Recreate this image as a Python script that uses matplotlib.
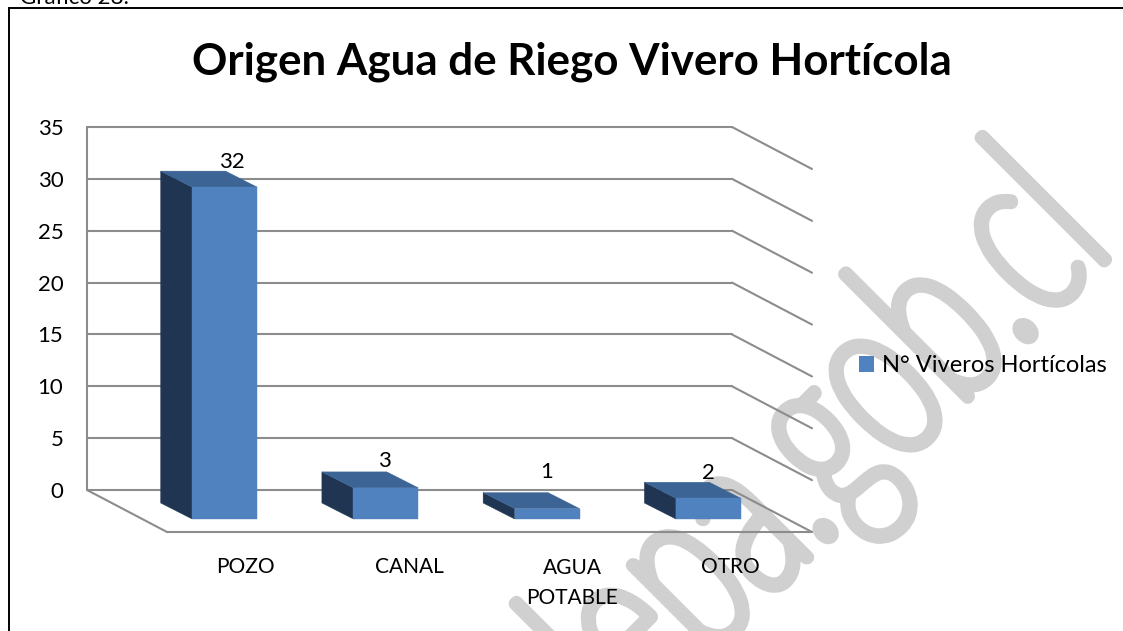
import matplotlib
matplotlib.use("Agg")
import matplotlib.pyplot as plt
import matplotlib.patheffects as pe
from matplotlib.patches import Polygon, Rectangle
from matplotlib.transforms import Affine2D, IdentityTransform

categories = ["POZO", "CANAL", "AGUA\nPOTABLE", "OTRO"]
values = [32, 3, 1, 2]
y_ticks = [0, 5, 10, 15, 20, 25, 30, 35]
series_name = "N° Viveros Hortícolas"
title = "Origen Agua de Riego Vivero Hortícola"
caption = "Gráfico 28:"
watermark = "www.odepa.gob.cl"

# style / layout
W, H = 1123, 631
FONT = "Lato"
plt.rcParams["font.family"] = [FONT, "DejaVu Sans"]
FRONT, TOP, SIDE = "#5082c0", "#3c6494", "#1f3552"
GRID = "#8c8c8c"
WM_COLOR = "#d0d0d0"
label_dx = [64, 56, 57, 57]
label_dy = [-4, -2, 8, -4]
cat_dx = [78, 81, 82, 79]
bar_w = 0.403


def fx(x):
    return x / W


def fy(y):
    return 1 - y / H


fig = plt.figure(figsize=(W / 100, H / 100), dpi=100, facecolor="white")


class Stretch(pe.AbstractPathEffect):
    """Condenses the watermark along its baseline and rounds its corners."""

    def __init__(self, extra, stroke, color):
        super().__init__()
        self.extra, self.stroke, self.color = extra, stroke, color

    def draw_path(self, renderer, gc, tpath, affine, rgbFace=None):
        g = renderer.new_gc()
        g.copy_properties(gc)
        g.set_linewidth(self.stroke)
        g.set_joinstyle("round")
        g.set_foreground(self.color)
        renderer.draw_path(g, tpath, affine + self.extra, rgbFace)
        g.restore()


ax_x, ax_y = 1116, H - 249
extra = (Affine2D().translate(-ax_x, -ax_y).rotate_deg(-45).scale(0.64, 1)
         .rotate_deg(45).translate(ax_x, ax_y))
wm = fig.text(ax_x / W, fy(249), watermark, fontsize=174, color=WM_COLOR,
              fontweight="light", rotation=45, rotation_mode="anchor",
              ha="right", va="baseline", zorder=-5)
wm.set_path_effects([Stretch(extra, 9.5, WM_COLOR)])

# frame (right and bottom edges lie beyond the picture)
fig.add_artist(Rectangle((fx(9), fy(660)), fx(1160 - 9), fy(8) - fy(660),
                         transform=fig.transFigure, fill=False,
                         edgecolor="black", linewidth=1.4, zorder=1))

fig.text(fx(20), fy(4), caption, fontsize=16, color="black", va="baseline", ha="left")
fig.text(fx(572), fy(62), title, fontsize=31.6, fontweight="bold", color="black",
         ha="center", va="center")

ax = fig.add_axes([fx(87), fy(490), fx(732 - 87), fy(127) - fy(490)])
ax.patch.set_alpha(0)
ax.set_xlim(0, len(categories))
ax.set_ylim(0, y_ticks[-1])
ax.set_yticks(y_ticks)
ax.set_xticks([])
ax.tick_params(axis="y", length=0, pad=17, labelsize=16)
for s in ax.spines.values():
    s.set_visible(False)

DPX, DPY = 80, -42      # side wall depth, pixels (figure y up)
pix = IdentityTransform()


def pt(x, y, dx=0, dy=0):
    px, py = ax.transData.transform((x, y))
    return (px + dx, py + dy)


def line(a, b):
    ax.plot([a[0], b[0]], [a[1], b[1]], color=GRID, lw=1.5, transform=pix,
            clip_on=False, solid_capstyle="round", zorder=2)


xmax = len(categories)
line(pt(0, 0), pt(0, y_ticks[-1]))
for t in y_ticks:
    line(pt(0, t), pt(xmax, t))
    line(pt(xmax, t), pt(xmax, t, DPX, DPY))
line(pt(0, 0), pt(0, 0, DPX, DPY))
line(pt(0, 0, DPX, DPY), pt(xmax, 0, DPX, DPY))

FX, FY = 57, -29    # front face offset
BX, BY = 25.5, -13  # back face offset
for i, (c, v) in enumerate(zip(categories, values)):
    x0, x1 = i + .5 - bar_w / 2, i + .5 + bar_w / 2
    side = [pt(x0, 0, BX, BY), pt(x0, v, BX, BY), pt(x0, v, FX, FY), pt(x0, 0, FX, FY)]
    top = [pt(x0, v, BX, BY), pt(x1, v, BX, BY), pt(x1, v, FX, FY), pt(x0, v, FX, FY)]
    front = [pt(x0, 0, FX, FY), pt(x0, v, FX, FY), pt(x1, v, FX, FY), pt(x1, 0, FX, FY)]
    for poly, col in ((side, SIDE), (top, TOP), (front, FRONT)):
        ax.add_patch(Polygon(poly, closed=True, facecolor=col, edgecolor=col, lw=0.3,
                             transform=pix, clip_on=False, zorder=3))
    ax.annotate(str(v), (i + .5, v), xytext=(label_dx[i], label_dy[i]),
                textcoords="offset pixels", ha="center", va="center",
                fontsize=16, color="black", annotation_clip=False, zorder=5)
    multi = "\n" in c
    ax.annotate(c, (i + .5, 0), xytext=(cat_dx[i], -68 if multi else -77),
                textcoords="offset pixels", ha="center", va="top" if multi else "center",
                fontsize=15, color="black", annotation_clip=False, zorder=5,
                linespacing=1.6)

leg_handle = Rectangle((0, 0), 1, 1, facecolor=FRONT, edgecolor="none")
fig.legend([leg_handle], [series_name], loc="center left", frameon=False,
           bbox_to_anchor=(fx(852), fy(366)), fontsize=17, handlelength=0.635,
           handleheight=0.635, handletextpad=0.34, borderaxespad=0, borderpad=0.3)

fig.savefig("out.png", dpi=100)
